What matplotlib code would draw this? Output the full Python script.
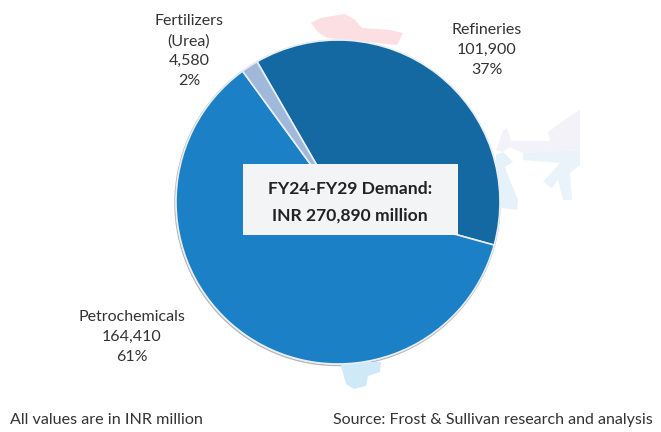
import matplotlib
matplotlib.use('Agg')
import matplotlib.pyplot as plt
from matplotlib.patches import Circle, Polygon, Rectangle

sectors = ['Refineries', 'Petrochemicals', 'Fertilizers\n(Urea)']
values = [101900, 164410, 4580]
shares = ['37%', '61%', '2%']
colors = ['#1569a3', '#1c80c6', '#a0b8da']

plt.rcParams['font.family'] = ['Lato', 'DejaVu Sans']
H = 432

fig = plt.figure(figsize=(6.61, 4.32), dpi=100)
ax = fig.add_axes([0, 0, 1, 1])

# faded map behind the pie
pink = [(311,23),(320,18),(345,14),(355,20),(362,28),(390,30),(403,33),(397,45),(327,38),(318,32)]
north_east = [(496,150),(503,131),(507,128),(511,141),(550,141),(548,132),(570,116),(580,110),(580,150),(523,153),(510,147),(503,152)]
band = [(523,153),(580,150),(580,165),(570,173),(572,200),(563,200),(558,180),(552,188),(543,182),(560,163),(523,160)]
west = [(496,155),(503,152),(513,162),(505,167),(507,173),(518,200),(517,210),(496,207)]
south = [(340,362),(381,362),(380,372),(368,376),(366,386),(354,389),(346,384)]
ax.add_patch(Polygon([(x, H-y) for x, y in pink], color='#fbdfe2', lw=0))
ax.add_patch(Polygon([(x, H-y) for x, y in north_east], color='#f3f2f8', lw=0))
ax.add_patch(Polygon([(x, H-y) for x, y in band], color='#ebf3fa', lw=0))
ax.add_patch(Polygon([(x, H-y) for x, y in west], color='#e6f2fa', lw=0))
ax.add_patch(Polygon([(x, H-y) for x, y in south], color='#cfe9f8', lw=0))

# soft grey rim under the pie
ax.add_patch(Circle((337.5, H-203), 162.5, fc='none', ec='#b5b5b5', lw=1, zorder=0.9))

ax.pie(values, colors=colors, startangle=120, counterclock=False,
       center=(338, H-202), radius=162, frame=True,
       wedgeprops={'edgecolor': '#e8eef5', 'linewidth': 1.2})
ax.set_xlim(0, 661)
ax.set_ylim(0, H)
ax.set_aspect('auto')
ax.axis('off')

ax.add_patch(Rectangle((243, H-235), 215, 71, fc='#f2f4f6', ec='none', zorder=3))
ax.text(350, H-189, 'FY24-FY29 Demand:', ha='center', va='center', fontsize=12.6,
        fontweight='bold', color='#222222', zorder=4)
ax.text(350, H-216, 'INR 270,890 million', ha='center', va='center', fontsize=12.6,
        fontweight='bold', color='#222222', zorder=4)

lab = {'ha': 'center', 'va': 'center', 'fontsize': 11.5, 'color': '#333333', 'linespacing': 1.55}
ax.text(487, H-50, f'{sectors[0]}\n{values[0]:,}\n{shares[0]}', **lab)
ax.text(132, H-337, f'{sectors[1]}\n{values[1]:,}\n{shares[1]}', **lab)
ax.text(189, H-51, f'{sectors[2]}\n{values[2]:,}\n{shares[2]}', **lab)

ax.text(10, H-420, 'All values are in INR million', ha='left', va='center', fontsize=11.6, color='#333333')
ax.text(653, H-420, 'Source: Frost & Sullivan research and analysis', ha='right', va='center',
        fontsize=11.5, color='#333333')

fig.savefig('out.png', dpi=100)
